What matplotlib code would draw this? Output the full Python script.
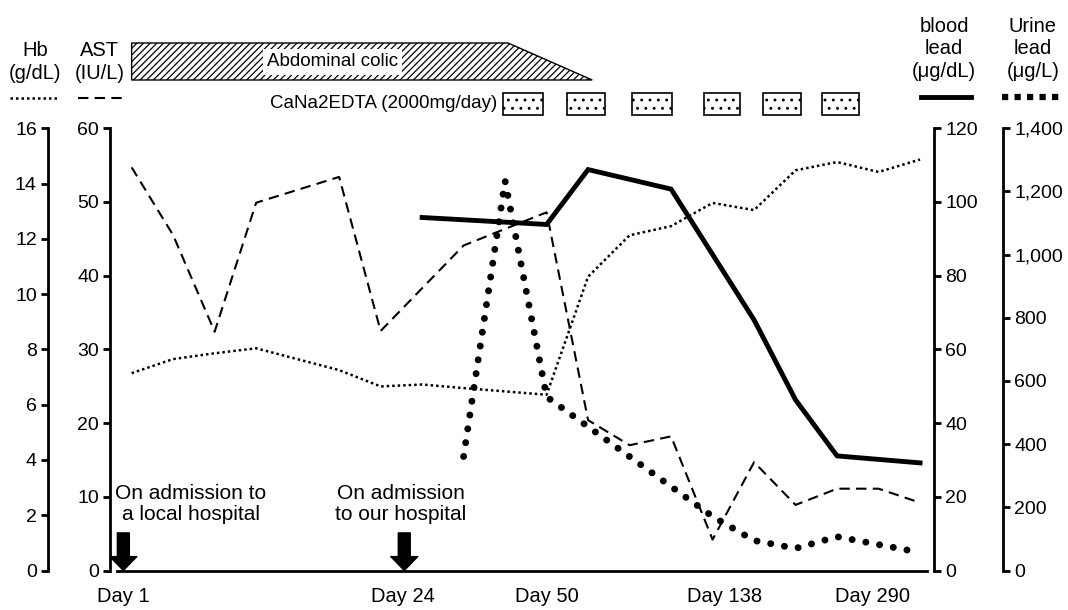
import matplotlib
matplotlib.use('Agg')
import matplotlib.pyplot as plt
from matplotlib.patches import Polygon, Rectangle
from matplotlib.lines import Line2D
from matplotlib.ticker import MultipleLocator, StrMethodFormatter
from matplotlib.transforms import blended_transform_factory

plt.rcParams['font.family'] = ['Liberation Sans', 'DejaVu Sans']
plt.rcParams['hatch.linewidth'] = 0.9

# Time points are drawn as evenly spaced visits (index 0..19)
hb_x = [0, 1, 2, 3, 5, 6, 7, 8, 10, 11, 12, 13, 14, 15, 16, 17, 18, 19]
hb = [7.14, 7.65, 7.86, 8.04, 7.25, 6.66, 6.73, 6.6, 6.36, 10.63, 12.13,
      12.46, 13.3, 13.04, 14.48, 14.78, 14.42, 14.87]

ast_x = [0, 1, 2, 3, 5, 6, 8, 10, 11, 12, 13, 14, 15, 16, 17, 18, 19]
ast = [54.7, 45.5, 32.4, 49.9, 53.4, 32.5, 44.1, 48.6, 20.4, 17.0, 18.2,
       4.2, 14.7, 8.9, 11.1, 11.1, 9.2]

blood_x = [7, 10, 11, 13, 15, 16, 17, 19]
blood = [95.8, 93.9, 108.8, 103.5, 68.0, 46.3, 31.1, 29.2]

urine_x = [8, 9, 10, 14, 15, 16, 17, 18, 19]
urine = [361, 1233, 550, 171, 95, 70, 107, 82, 57]

day_labels = ['Day 1', 'Day 24', 'Day 50', 'Day 138', 'Day 290']
day_pos = [-0.2, 6.55, 10.0, 14.3, 17.85]

# treatment periods (in visit index units)
colic_start, colic_end, colic_taper = 0.0, 9.07, 11.1
edta_start = [8.95, 10.49, 12.06, 13.79, 15.21, 16.63]
edta_end = [9.92, 11.41, 13.02, 14.66, 16.13, 17.53]

admissions = [-0.2, 6.57]
admission_text = ['On admission to\na local hospital', 'On admission\nto our hospital']
admission_text_x = [1.43, 6.49]

W, H = 1068, 610
fig = plt.figure(figsize=(W / 100, H / 100), dpi=100)
ax = fig.add_axes([116.7 / W, (H - 570.5) / H, (926.7 - 116.7) / W, (570.5 - 128.3) / H])
ax.patch.set_alpha(0)
ax_hb = ax.twinx()
ax_bl = ax.twinx()
ax_ur = ax.twinx()

spine_lw = 2.0
for a in (ax, ax_hb, ax_bl, ax_ur):
    for s in a.spines.values():
        s.set_visible(False)
        s.set_linewidth(spine_lw)

ax.set_xlim(-0.36, 19.16)
ax.set_ylim(0, 60)
ax_hb.set_ylim(0, 16)
ax_bl.set_ylim(0, 120)
ax_ur.set_ylim(0, 1400)

# AST axis (inner left)
ax.spines['left'].set_visible(True)
ax.spines['left'].set_position(('outward', 4.8))
ax.spines['bottom'].set_visible(True)
ax.yaxis.set_major_locator(MultipleLocator(10))
ax.tick_params(axis='y', direction='out', length=5, width=spine_lw, labelsize=14, pad=3)
ax.set_xticks(day_pos)
ax.set_xticklabels(day_labels)
ax.tick_params(axis='x', length=0, labelsize=14.5, pad=12)

# Hb axis (outer left)
ax_hb.yaxis.tick_left()
ax_hb.spines['left'].set_visible(True)
ax_hb.spines['left'].set_position(('outward', 49.5))
ax_hb.yaxis.set_major_locator(MultipleLocator(2))
ax_hb.tick_params(axis='y', direction='out', length=5, width=spine_lw, labelsize=14, pad=3)

# blood lead axis (inner right)
ax_bl.spines['right'].set_visible(True)
ax_bl.spines['right'].set_position(('outward', 5.3))
ax_bl.yaxis.set_major_locator(MultipleLocator(20))
ax_bl.tick_params(axis='y', direction='out', length=5, width=spine_lw, labelsize=14, pad=3)

# urine lead axis (outer right)
ax_ur.spines['right'].set_visible(True)
ax_ur.spines['right'].set_position(('outward', 55))
ax_ur.yaxis.set_major_locator(MultipleLocator(200))
ax_ur.yaxis.set_major_formatter(StrMethodFormatter('{x:,.0f}'))
ax_ur.tick_params(axis='y', direction='out', length=5, width=spine_lw, labelsize=14, pad=3)

# series
hb_style = dict(color='black', lw=1.8, linestyle=(0, (1, 1.2)))
ast_style = dict(color='black', lw=1.5, linestyle=(0, (5, 3)))
bl_style = dict(color='black', lw=3.5, solid_joinstyle='miter')
ur_style = dict(color='black', lw=5, linestyle=(0, (0.01, 2)), dash_capstyle='round')

ax_hb.plot(hb_x, hb, **hb_style)
ax.plot(ast_x, ast, **ast_style)
ax_bl.plot(blood_x, blood, **bl_style)
ax_ur.plot(urine_x, urine, **ur_style)

# admission arrows and notes
for xa, txt, xt in zip(admissions, admission_text, admission_text_x):
    ax.annotate('', xy=(xa, 0), xytext=(xa, 5.1), annotation_clip=False,
                arrowprops=dict(arrowstyle='simple,head_width=0.97,head_length=0.5,tail_width=0.43',
                                fc='black', ec='black', shrinkA=0, shrinkB=0, mutation_scale=20))
    ax.text(xt, 9.0, txt, ha='center', va='center', fontsize=15, linespacing=1.15)

# header (pixel coordinates)
hdr = fig.add_axes([0, 0, 1, 1], facecolor='none')
hdr.set_xlim(0, W)
hdr.set_ylim(H, 0)
hdr.axis('off')
trans = blended_transform_factory(ax.transData, hdr.transData)

colic = Polygon([(colic_start, 43), (colic_end, 43), (colic_taper, 80), (colic_start, 80)],
                closed=True, fill=False, hatch='/////', ec='black', lw=1, transform=trans)
hdr.add_patch(colic)
hdr.text((colic_start + colic_end) / 2 + 0.3, 62, 'Abdominal colic', transform=trans,
         ha='center', va='center', fontsize=13.5,
         bbox=dict(fc='white', ec='none', pad=3))

for s, e in zip(edta_start, edta_end):
    hdr.add_patch(Rectangle((s, 93), e - s, 22, fill=False, hatch='..', ec='black',
                            lw=1.2, transform=trans))
hdr.text(497, 104, 'CaNa2EDTA (2000mg/day)', ha='right', va='center', fontsize=13.5)

hdr.text(35, 62, 'Hb\n(g/dL)', ha='center', va='center', fontsize=14.5, linespacing=1.25)
hdr.text(100, 62, 'AST\n(IU/L)', ha='center', va='center', fontsize=14.5, linespacing=1.25)
hdr.text(944, 49, 'blood\nlead\n(μg/dL)', ha='center', va='center', fontsize=14.5, linespacing=1.25)
hdr.text(1033, 49, 'Urine\nlead\n(μg/L)', ha='center', va='center', fontsize=14.5, linespacing=1.25)

hdr.add_line(Line2D([10, 58], [98, 98], **hb_style))
hdr.add_line(Line2D([78, 125], [98, 98], **ast_style))
hdr.add_line(Line2D([921, 971], [97, 97], **bl_style))
hdr.add_line(Line2D([1002, 1062], [97, 97], color='black', lw=4.5, linestyle=(0, (1, 1))))

fig.savefig('out.png', dpi=100)
